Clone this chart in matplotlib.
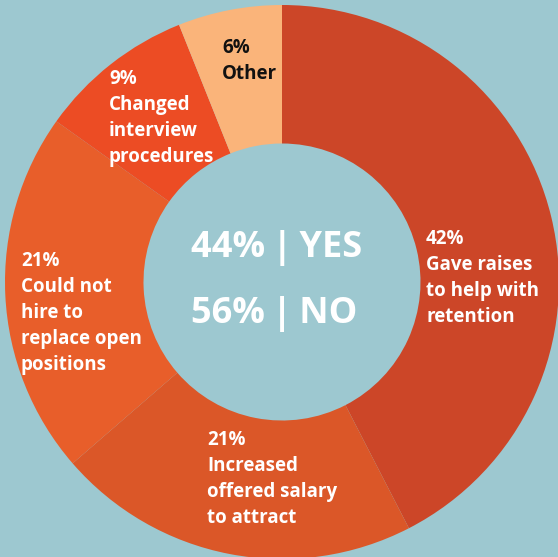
import matplotlib
matplotlib.use("Agg")
import matplotlib.pyplot as plt

# Survey responses, in clockwise order from 12 o'clock
categories = [
    "Gave raises\nto help with\nretention",
    "Increased\noffered salary\nto attract",
    "Could not\nhire to\nreplace open\npositions",
    "Changed\ninterview\nprocedures",
    "Other",
]
values = [42, 21, 21, 9, 6]
colors = ["#CC4628", "#DB5728", "#E85E2A", "#EC4C24", "#FAB47A"]
text_colors = ["white", "white", "white", "white", "#111111"]
summary = [("44%", "YES"), ("56%", "NO")]

BG = "#9DC8D0"
FONT = "Open Sans"

W, H = 558, 557
fig = plt.figure(figsize=(W / 100, H / 100), dpi=100, facecolor=BG)
ax = fig.add_axes([0, 0, 1, 1])
ax.set_facecolor(BG)

# pie centre and radius in pixels
cx, cy, R = 282, 282, 277


def px(x, y):
    return (x - cx) / R, (cy - y) / R


ax.pie(values, colors=colors, startangle=90, counterclock=False,
       radius=1.0, wedgeprops=dict(width=0.5, linewidth=0))

ax.set_xlim((0 - cx) / R, (W - cx) / R)
ax.set_ylim((cy - H) / R, cy / R)
ax.set_aspect("auto")
ax.axis("off")

# slice labels: top-left anchor of each block
anchors = [(426, 229), (207, 430), (21, 251), (109, 69), (222, 38)]
for cat, val, tc, (ax_px, ay_px) in zip(categories, values, text_colors, anchors):
    x, y = px(ax_px, ay_px)
    ax.text(x, y, f"{val}%\n{cat}", color=tc, fontsize=13.5,
            fontfamily=FONT, fontweight="bold", ha="left", va="top",
            linespacing=1.4)

# yes / no summary in the hole
for (pct, word), y_px in zip(summary, [248, 314]):
    x, y = px(191, y_px)
    ax.text(x, y, f"{pct}\u2009|\u2009{word}", color="white", fontsize=26,
            fontfamily=FONT, fontweight="bold", ha="left", va="center")

fig.savefig("out.png", dpi=100, facecolor=BG)
